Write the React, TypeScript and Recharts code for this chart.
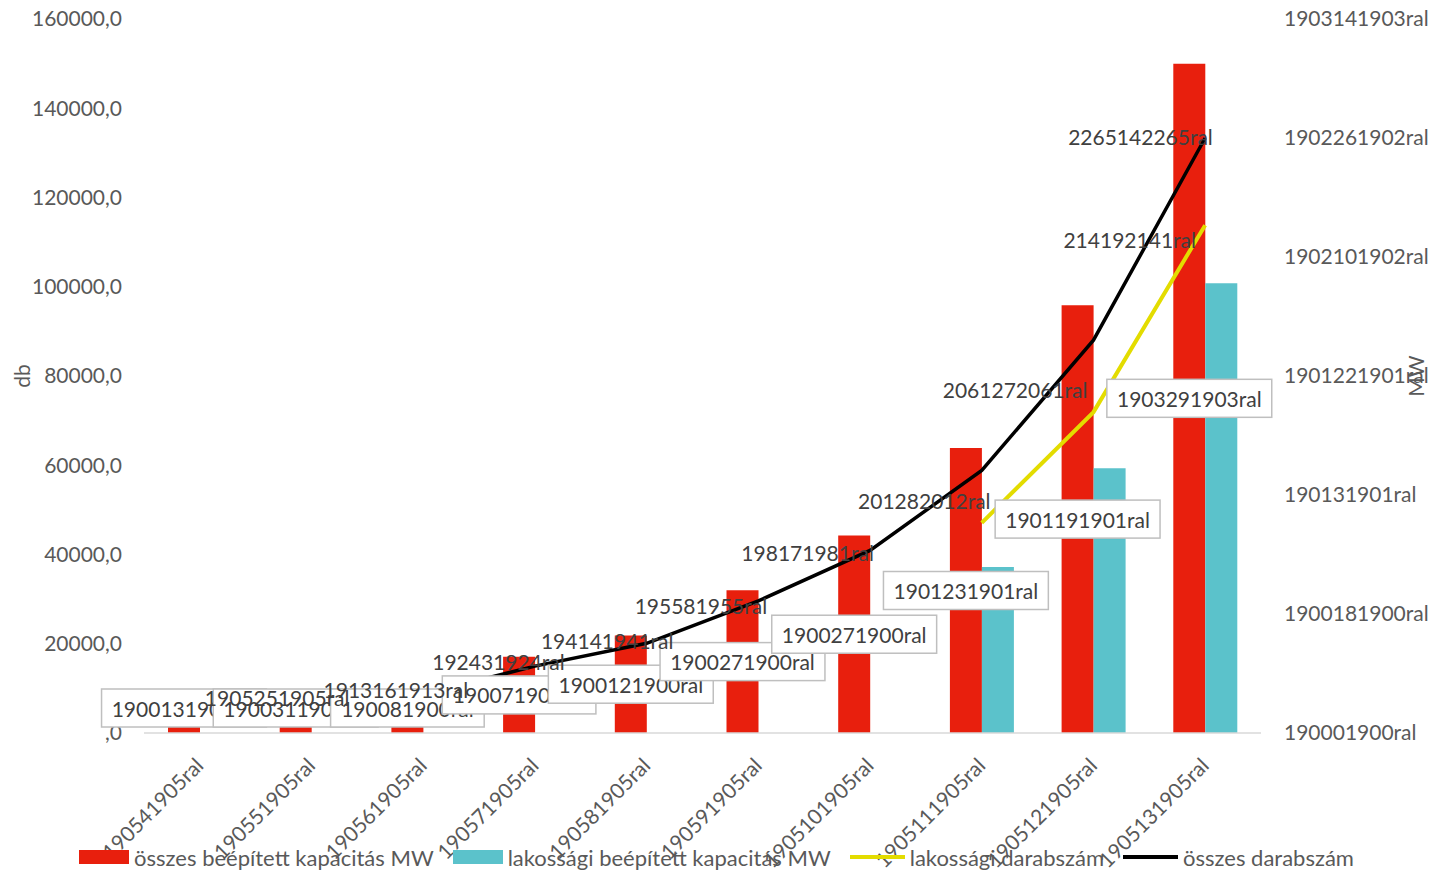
import { ComposedChart, Bar, Line, XAxis, YAxis, LabelList, Legend } from 'recharts';

const categories = [
  '190541905ral', '190551905ral', '190561905ral', '190571905ral', '190581905ral',
  '190591905ral', '1905101905ral', '1905111905ral', '1905121905ral', '1905131905ral',
];
// MW
const totalCapacity = [13, 31, 39, 128, 164, 240, 332, 479, 719, 1125];
const householdCapacity = [null, null, null, null, null, null, null, 279, 445, 756];
// db
const householdCount = [null, null, null, null, null, null, null, 47100, 71900, 113800];
const totalCount = [1852, 4765, 8769, 14980, 20097, 29593, 40916, 58833, 88034, 133329];

const dbTicks = [0, 20000, 40000, 60000, 80000, 100000, 120000, 140000, 160000];
const mwTicks = [0, 200, 400, 600, 800, 1000, 1200];

// hand-placed label nudges, as in the original sheet
const countLabelShift = [
  [5, -27], [12, -22], [9, -32], [6, -26], [-12, -38],
  [-17, -48], [-12, -50], [-39, -81], [-30, -101], [-137, -2],
];

const FONT = 'Lato, sans-serif';
const RED = '#E81F0D';
const CYAN = '#5BC2CB';
const YELLOW = '#E3DC00';

const data = categories.map((c, i) => ({
  cat: c,
  total: totalCapacity[i],
  household: householdCapacity[i],
  hhCount: householdCount[i],
  count: totalCount[i],
}));

// Excel serial date shown with the broken "yyyy d yyyy ral" format
function excelLabel(v: number) {
  const n = Math.round(v);
  let y = 1900;
  let d = 0;
  if (n === 60) {
    d = 29;
  } else if (n > 0) {
    const base = n < 60 ? Date.UTC(1899, 11, 31) : Date.UTC(1899, 11, 30);
    const dt = new Date(base + n * 86400000);
    y = dt.getUTCFullYear();
    d = dt.getUTCDate();
  }
  return `${y}${d}${y}ral`;
}

const dbFormat = (v: number) => (v === 0 ? ',0' : `${v},0`);

function CatTick(props: any) {
  const { x, y, payload } = props;
  const ax = x + 5;
  const ay = y + 32;
  return (
    <text x={ax} y={ay} transform={`rotate(-45 ${ax} ${ay})`} textAnchor="end"
      fill="#595959" fontSize={21} fontFamily={FONT}>
      {payload.value}
    </text>
  );
}

function BoxLabel(props: any) {
  const { x, y, width, height, value } = props;
  if (value == null) return null;
  const text = excelLabel(value);
  const cx = x + width / 2;
  const cy = Math.min(y + height / 2, y + height - 25);
  const w = text.length * 11.3 + 18;
  const h = 38;
  return (
    <g>
      <rect x={cx - w / 2} y={cy - h / 2} width={w} height={h} fill="#fff" stroke="#BFBFBF" strokeWidth={1.5} />
      <text x={cx} y={cy} textAnchor="middle" dominantBaseline="central" fill="#404040" fontSize={21} fontFamily={FONT}>
        {text}
      </text>
    </g>
  );
}

function CountLabel(props: any) {
  const { x, y, value, index } = props;
  if (value == null) return null;
  const [dx, dy] = countLabelShift[index] || [0, -25];
  return (
    <text x={x + dx} y={y + dy} dominantBaseline="central" fill="#404040" fontSize={21} fontFamily={FONT}>
      {excelLabel(value)}
    </text>
  );
}

function AxisTitle({ text, px }: { text: string; px: number }) {
  return (
    <text x={px} y={376} transform={`rotate(-90 ${px} 376)`} textAnchor="middle" dominantBaseline="central"
      fill="#595959" fontSize={21} fontFamily={FONT}>
      {text}
    </text>
  );
}

const legendItems = [
  { name: 'összes beépített kapacitás MW', color: RED, kind: 'rect' },
  { name: 'lakossági beépített kapacitás MW', color: CYAN, kind: 'rect' },
  { name: 'lakossági darabszám', color: YELLOW, kind: 'line' },
  { name: 'összes darabszám', color: '#000', kind: 'line' },
];

function ChartLegend() {
  return (
    <div style={{ display: 'flex', justifyContent: 'center', alignItems: 'center', height: 26, gap: 19, fontFamily: FONT, fontSize: 22, color: '#595959' }}>
      {legendItems.map((it) => (
        <div key={it.name} style={{ display: 'flex', alignItems: 'center', gap: 5 }}>
          {it.kind === 'rect' ? (
            <div style={{ width: 50, height: 14, background: it.color }} />
          ) : (
            <div style={{ width: 55, height: 4, background: it.color }} />
          )}
          <span>{it.name}</span>
        </div>
      ))}
    </div>
  );
}

export default function App() {
  return (
    <div style={{ position: 'absolute', left: 0, top: 0, background: '#fff' }}>
      <ComposedChart width={1433} height={870} data={data} barGap={0}
        margin={{ top: 19, right: 0, bottom: 0, left: 0 }}>
        <XAxis dataKey="cat" tick={<CatTick />} tickLine={false} tickSize={0} interval={0}
          axisLine={{ stroke: '#D9D9D9', strokeWidth: 1.5 }} height={111} />
        <YAxis yAxisId="db" orientation="left" width={144} domain={[0, 160000]} ticks={dbTicks}
          tickFormatter={dbFormat} axisLine={false} tickLine={false} tickSize={0} tickMargin={22}
          tick={{ fill: '#595959', fontSize: 21, fontFamily: FONT }}
          label={<AxisTitle text="db" px={21} />} />
        <YAxis yAxisId="mw" orientation="right" width={172} domain={[0, 1200]} ticks={mwTicks}
          tickFormatter={excelLabel} axisLine={false} tickLine={false} tickSize={0} tickMargin={23}
          tick={{ fill: '#595959', fontSize: 21, fontFamily: FONT, textAnchor: 'start' }}
          label={<AxisTitle text="MW" px={1415} />} />
        <Legend verticalAlign="bottom" content={<ChartLegend />} wrapperStyle={{ bottom: 0 }} />
        <Bar yAxisId="mw" dataKey="total" name="összes beépített kapacitás MW" fill={RED} barSize={32} isAnimationActive={false}>
          <LabelList dataKey="total" content={<BoxLabel />} />
        </Bar>
        <Bar yAxisId="mw" dataKey="household" name="lakossági beépített kapacitás MW" fill={CYAN} barSize={32} isAnimationActive={false} />
        <Line yAxisId="db" type="linear" dataKey="hhCount" name="lakossági darabszám" stroke={YELLOW} strokeWidth={4} dot={false} isAnimationActive={false} />
        <Line yAxisId="db" type="linear" dataKey="count" name="összes darabszám" stroke="#000" strokeWidth={3.5} dot={false} isAnimationActive={false}>
          <LabelList dataKey="count" content={<CountLabel />} />
        </Line>
      </ComposedChart>
    </div>
  );
}
